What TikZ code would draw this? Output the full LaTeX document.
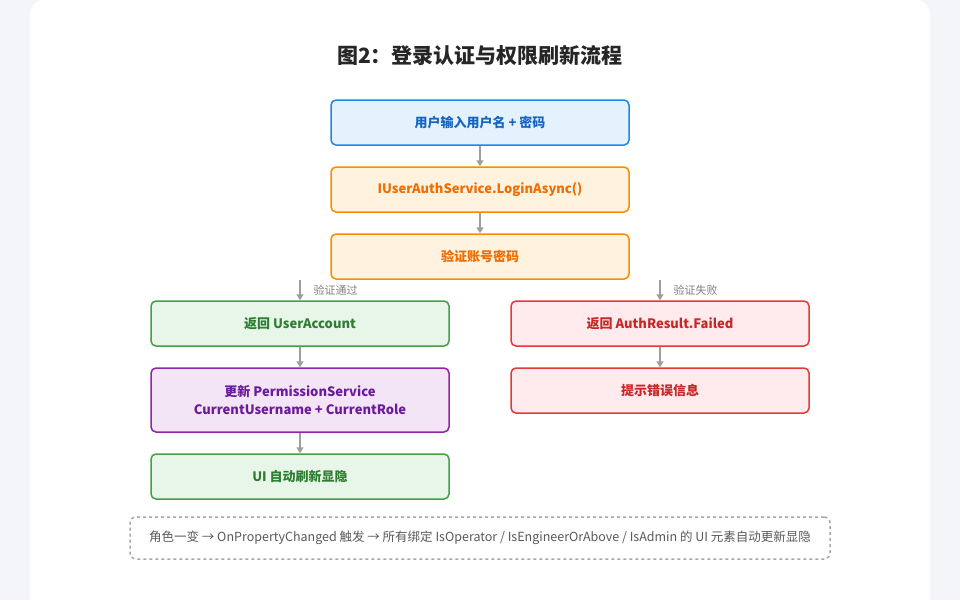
\documentclass[tikz,border=0pt]{standalone}
\usepackage{fontspec}
\setmainfont{Noto Sans CJK SC}
\usetikzlibrary{arrows.meta}
\definecolor{bg}{HTML}{F4F5F9}
\definecolor{arr}{HTML}{9E9E9E}
\definecolor{bF}{HTML}{E3F2FD}\definecolor{bD}{HTML}{1E88E5}\definecolor{bT}{HTML}{1565C0}
\definecolor{oF}{HTML}{FFF3E0}\definecolor{oD}{HTML}{FB8C00}\definecolor{oT}{HTML}{EF6C00}
\definecolor{gF}{HTML}{E8F5E9}\definecolor{gD}{HTML}{43A047}\definecolor{gT}{HTML}{2E7D32}
\definecolor{pF}{HTML}{F3E5F5}\definecolor{pD}{HTML}{8E24AA}\definecolor{pT}{HTML}{6A1B9A}
\definecolor{rF}{HTML}{FFEBEE}\definecolor{rD}{HTML}{E53935}\definecolor{rT}{HTML}{C62828}
\begin{document}
\begin{tikzpicture}[x=1pt,y=-1pt,
  box/.style={draw,line width=1.5pt,rounded corners=5pt,minimum width=298pt,minimum height=45pt,align=center,font=\bfseries\fontsize{13}{18}\selectfont,inner sep=0pt},
  blue/.style={box,draw=bD,fill=bF,text=bT},
  orange/.style={box,draw=oD,fill=oF,text=oT},
  green/.style={box,draw=gD,fill=gF,text=gT},
  purple/.style={box,draw=pD,fill=pF,text=pT},
  red/.style={box,draw=rD,fill=rF,text=rT},
  ar/.style={draw=arr,line width=1.5pt,-{Triangle[length=6pt,width=7pt]}},
  lab/.style={font=\fontsize{11}{13}\selectfont,text=gray,anchor=west}]
\fill[bg] (0,0) rectangle (960,600);
\useasboundingbox (0,0) rectangle (960,600);
\fill[white,rounded corners=14pt] (30,0) rectangle (930,614);
\node[font=\bfseries\fontsize{21}{25}\selectfont,text=black!85] (t) at (480,55) {图2：登录认证与权限刷新流程};
\node[blue] (b1) at (480,122.5) {用户输入用户名 + 密码};
\node[orange] (b2) at (480,189.5) {IUserAuthService.LoginAsync()};
\node[orange] (b3) at (480,256.5) {验证账号密码};
\node[green] (l1) at (300,323.5) {返回 UserAccount};
\node[purple,minimum height=64pt] (l2) at (300,400) {更新 PermissionService\\CurrentUsername + CurrentRole};
\node[green] (l3) at (300,476.5) {UI 自动刷新显隐};
\node[red] (r1) at (660,323.5) {返回 AuthResult.Failed};
\node[red] (r2) at (660,390.5) {提示错误信息};
\node[draw=gray!70,dashed,line width=1.5pt,rounded corners=6pt,minimum width=700pt,minimum height=42pt,text=black!65,font=\fontsize{12.5}{14}\selectfont] (n) at (480,538) {角色一变 → OnPropertyChanged 触发 → 所有绑定 IsOperator / IsEngineerOrAbove / IsAdmin 的 UI 元素自动更新显隐};
\coordinate (cl) at (300,280);
\coordinate (cr) at (660,280);
\draw[ar] (b1) -- (b2);
\draw[ar] (b2) -- (b3);
\draw[ar] (cl) -- (l1.north);
\draw[ar] (cr) -- (r1.north);
\draw[ar] (l1) -- (l2);
\draw[ar] (l2) -- (l3);
\draw[ar] (r1) -- (r2);
\node[lab] (p) at (310,290) {验证通过};
\node[lab] (f) at (670,290) {验证失败};
\end{tikzpicture}
\end{document}
